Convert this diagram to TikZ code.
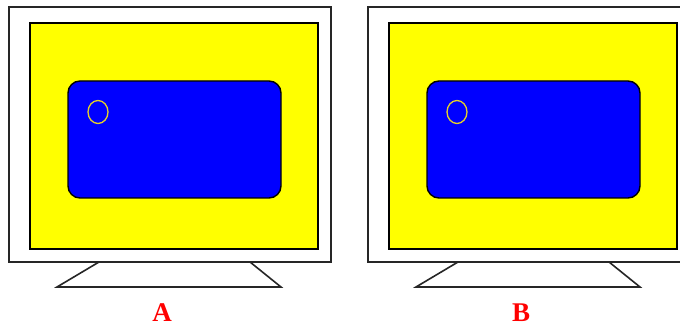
\documentclass[tikz,border=0pt]{standalone}
\usepackage{fontspec}
\setmainfont{Liberation Serif}
\usetikzlibrary{positioning}
\definecolor{scryellow}{RGB}{255,255,0}
\definecolor{scrblue}{RGB}{0,0,255}
\definecolor{lblred}{RGB}{255,0,0}
\definecolor{dotyellow}{RGB}{230,210,40}
\tikzset{
  frame/.style={draw=black!85,line width=2pt,fill=white},
  bezel/.style={draw=black,line width=1.6pt,fill=scryellow},
  panel/.style={draw=black,line width=1.4pt,fill=scrblue,rounded corners=12pt},
  spot/.style={draw=dotyellow,line width=1.3pt},
  stand/.style={draw=black!85,line width=1.6pt,line join=miter},
  lbl/.style={font=\fontsize{27}{27}\selectfont\bfseries,text=lblred,inner sep=0pt}
}
\begin{document}
\begin{tikzpicture}[x=1pt,y=-1pt]
  \useasboundingbox (0,0) rectangle (680,328);
  \begin{scope}
    \clip (0,0) rectangle (680,328);
    \foreach \dx/\lab in {0/A,359/B}{
      \begin{scope}[xshift=\dx pt]
        % monitor body
        \draw[frame] (9,7) rectangle (331,262);
        \draw[bezel] (30,23) rectangle (318,249);
        \draw[panel] (68,81) rectangle (281,198);
        \draw[spot] (98,112) ellipse [x radius=10, y radius=11.5];
        % foot
        \draw[stand] (99,262) -- (57,287) -- (281,287) -- (250,262);
        \node[lbl] (lbl\lab) at (162,313) {\lab};
      \end{scope}
    }
  \end{scope}
\end{tikzpicture}
\end{document}
